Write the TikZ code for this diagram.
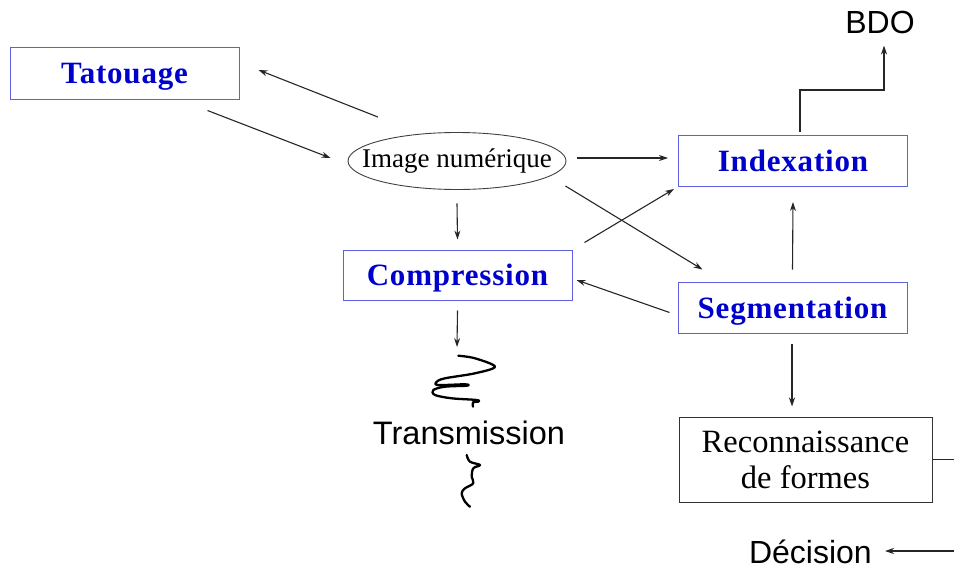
\documentclass[tikz,border=0pt]{standalone}
\usepackage{fontspec}
\setmainfont{Liberation Serif}
\setsansfont{Liberation Sans}
\newfontfamily\spacedbold[LetterSpace=2.6]{Liberation Serif Bold}
\usetikzlibrary{arrows.meta,shapes.geometric}

\definecolor{boxblue}{RGB}{95,95,225}
\definecolor{textblue}{RGB}{0,0,205}

\tikzset{
  bluebox/.style={draw=boxblue, line width=1pt, minimum width=229pt, minimum height=52pt,
    inner sep=0pt, text depth=0pt, text=textblue, font=\spacedbold\fontsize{31}{36}\selectfont},
  blackbox/.style={draw=black!80, line width=1pt, inner sep=0pt, align=center,
    font=\fontsize{32.5}{36}\selectfont},
  sanslabel/.style={inner sep=0pt, font=\sffamily\fontsize{32.5}{36}\selectfont},
  arr/.style={draw=black!85, line width=1.1pt, -{Stealth[length=9pt,width=6pt]}},
  plain/.style={draw=black!85, line width=1.1pt},
  squiggle/.style={draw=black, line width=2.3pt, line cap=round, line join=round}
}

\begin{document}
\begin{tikzpicture}[x=1pt,y=-1pt]
  \useasboundingbox (0,0) rectangle (954,570);

  % processing blocks
  \node[bluebox] (tat) at (124.5,73) {Tatouage};
  \node[draw=black!75, line width=0.9pt, ellipse, minimum width=218pt, minimum height=57pt,
        inner sep=0pt, font=\fontsize{27}{30}\selectfont] (img) at (457,161)
       {\makebox[0pt]{Image numérique}};
  \node[bluebox, minimum height=51pt] (idx) at (793,161) {Indexation};
  \node[bluebox, minimum height=50pt] (cmp) at (457.5,275) {Compression};
  \node[bluebox, minimum height=51pt] (seg) at (792.5,307.5) {Segmentation};
  \node[blackbox, minimum width=253pt, minimum height=85pt] (rec) at (805.5,459.5)
       {Reconnaissance\\de formes};

  % free labels
  \node[sanslabel, font=\sffamily\fontsize{32}{36}\selectfont] (bdo) at (880,22) {BDO};
  \node[sanslabel] (trans) at (469,433) {Transmission};
  \node[sanslabel, anchor=east, font=\sffamily\fontsize{32}{36}\selectfont] (dec) at (872,552) {Décision};

  % loose ends of connectors
  \coordinate (cmpout) at (457,347);
  \coordinate (recedge) at (954,460);
  \coordinate (decedge) at (954,551);

  % connectors
  \draw[arr] ([shift={(-79,-15)}]img.north) -- ([shift={(19,-3)}]tat.east);
  \draw[arr] ([shift={(-32,11)}]tat.south east) -- ([shift={(-17,-3)}]img.west);
  \draw[arr] ([shift={(11,-3)}]img.east) -- ([shift={(-10,-3)}]idx.west);
  \draw[arr] ([shift={(0,13.5)}]img.south) -- ([shift={(0,-10)}]cmp.north);
  \draw[arr] ([shift={(-1,25)}]img.east) -- ([shift={(25,-12)}]seg.north west);
  \draw[arr] ([shift={(12,-7)}]cmp.north east) -- ([shift={(-4,2)}]idx.south west);
  \draw[arr] ([shift={(-8,5)}]seg.west) -- ([shift={(4,5)}]cmp.east);
  \draw[arr] ([shift={(0,-12)}]seg.north) -- ([shift={(0,15)}]idx.south);
  \draw[arr] ([shift={(0,10)}]cmp.south) -- (cmpout);
  \draw[arr] ([shift={(-0.5,10)}]seg.south) -- ([shift={(-13.5,-10)}]rec.north);
  \draw[arr] ([shift={(7,-3)}]idx.north) |- ([shift={(4,-45)}]idx.north -| bdo.south)
             -- ([shift={(4,12)}]bdo.south);
  \draw[plain] (rec.east) -- (rec.east -| recedge);
  \draw[arr] (decedge) -- ([shift={(13,-1)}]dec.east);

  % hand-drawn transmission channel
  \draw[squiggle] plot[smooth, tension=0.55] coordinates {
    (458.3,355.7) (475,358.3) (495,366.7) (475,373.3) (445,378.3) (436.7,381.7)
    (438,385) (465,384.3) (466.7,385.7) (445,386.7) (433.3,390) (435,395)
    (451.7,398.3) (476.7,400) (478,401.7) (473,402.3) (473,406.7)};
  \draw[squiggle] plot[smooth, tension=0.6] coordinates {
    (466.7,455) (470,461.7) (480,465) (473.3,468.3) (471.7,476.7) (473.3,483.3)
    (465,488.3) (461.7,493.3) (465,501.7) (470,506.7)};
\end{tikzpicture}
\end{document}
